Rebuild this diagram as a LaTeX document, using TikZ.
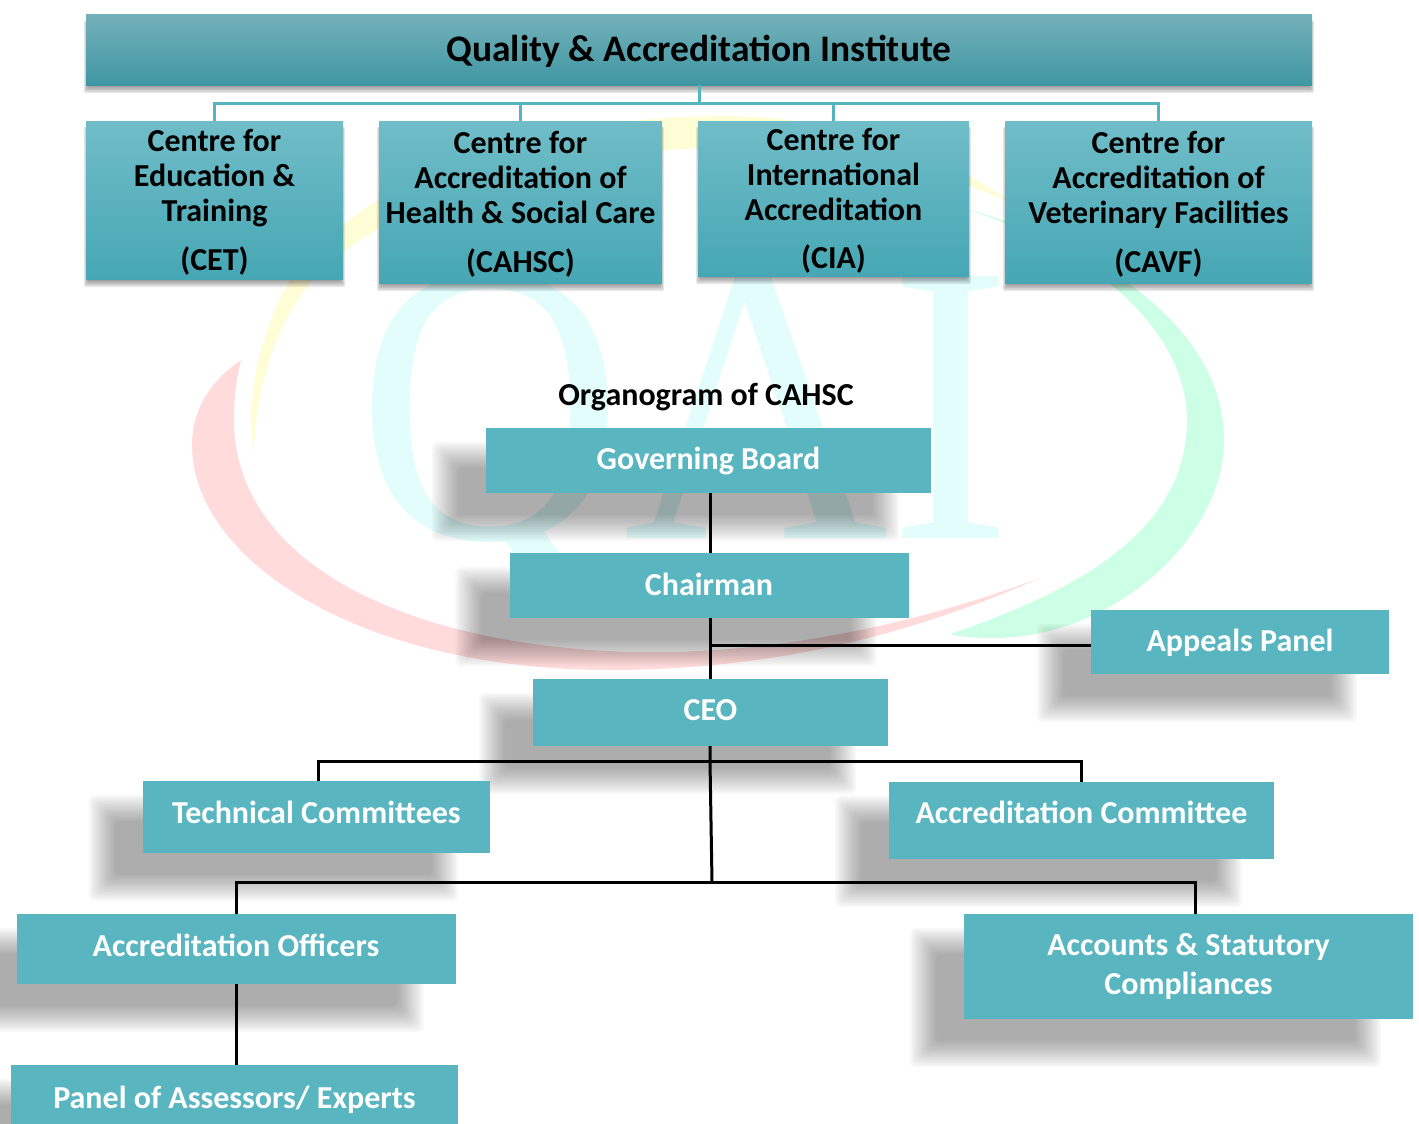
\documentclass[tikz,border=0pt]{standalone}
\usepackage{fontspec}
\setmainfont{Carlito}
\newfontfamily\wmfont{Liberation Serif}
\usetikzlibrary{calc}
\pgfdeclarelayer{wmark}
\pgfdeclarelayer{shade}
\pgfsetlayers{wmark,shade,main}
\definecolor{orgteal}{HTML}{59B6C1}
\definecolor{linkteal}{HTML}{55B4BE}
\definecolor{HeadA}{HTML}{70BDC8}
\definecolor{HeadB}{HTML}{55B9C9}
\definecolor{HeadC}{HTML}{46A7B4}
\tikzset{
  topbox/.style={rectangle,inner sep=0pt,align=center,top color=HeadA,middle color=HeadB,bottom color=HeadC,
    font=\fontsize{32}{35}\bfseries\selectfont},
  orgbox/.style={rectangle,inner sep=0pt,align=center,fill=orgteal,text=white,
    font=\fontsize{32}{39}\bfseries\selectfont},
  teallink/.style={draw=linkteal,line width=3pt},
  orglink/.style={draw=black,line width=3pt}
}
\begin{document}
\begin{tikzpicture}[x=1pt,y=-1pt]
            \useasboundingbox (0,0) rectangle (1419,1124);

            % header row
            \node[rectangle,inner sep=0pt,top color=HeadA!80!gray,bottom color=HeadC!90!black,minimum width=1226pt,minimum height=70pt,text depth=3pt,font=\fontsize{37.5}{40}\bfseries\selectfont] (qai) at (699.00,50.00) {Quality \& Accreditation Institute};
            \node[topbox,minimum width=257pt,minimum height=158pt] (cet) at (214.50,200.00) {\rule{0pt}{27pt}Centre for\\Education \&\\Training\\[14pt](CET)};
            \node[topbox,minimum width=283pt,minimum height=162pt] (cahsc) at (520.50,202.00) {\rule{0pt}{27pt}Centre for\\Accreditation of\\Health \& Social Care\\[14pt](CAHSC)};
            \node[topbox,minimum width=271pt,minimum height=155pt] (cia) at (833.50,198.50) {\rule{0pt}{26pt}Centre for\\International\\Accreditation\\[13pt](CIA)};
            \node[topbox,minimum width=307pt,minimum height=162pt] (cavf) at (1158.50,202.00) {\rule{0pt}{27pt}Centre for\\Accreditation of\\Veterinary Facilities\\[14pt](CAVF)};

            % organogram boxes
            \node[font=\fontsize{32}{36}\bfseries\selectfont,inner sep=0pt] (orgtitle) at (706.00,397.00) {Organogram of CAHSC};
            \node[orgbox,minimum width=445pt,minimum height=65pt] (gb) at (708.50,460.50) {Governing Board};
            \node[orgbox,minimum width=399pt,minimum height=65pt,text depth=2pt] (chair) at (709.00,585.50) {Chairman};
            \node[orgbox,minimum width=355pt,minimum height=67pt,text depth=6pt] (ceo) at (710.50,712.50) {CEO};
            \node[orgbox,minimum width=298pt,minimum height=64pt,text height=24pt] (appeals) at (1240.00,642.00) {Appeals Panel};
            \node[orgbox,minimum width=347pt,minimum height=72pt,text depth=10pt] (tech) at (316.50,817.00) {Technical Committees};
            \node[orgbox,minimum width=385pt,minimum height=77pt,text depth=16pt] (acccom) at (1081.50,820.50) {Accreditation Committee};
            \node[orgbox,minimum width=439pt,minimum height=70pt,text depth=8pt] (accoff) at (236.00,949.00) {Accreditation Officers};
            \node[orgbox,minimum width=449pt,minimum height=105pt] (accstat) at (1188.50,966.50) {Accounts \& Statutory\\Compliances};
            \node[orgbox,minimum width=447pt,minimum height=70pt] (panel) at (234.50,1100.00) {Panel of Assessors/ Experts};

            % junctions
            \coordinate (spine) at (710.00,761.00);
            \coordinate (busb) at (712.00,882.00);
            \coordinate (appealsjoin) at (710.00,645.00);
            \coordinate (headjoin) at (699.00,103.00);

            \draw[teallink] (qai.south) -- (headjoin);
            \draw[teallink] (cet.north) |- (headjoin);
            \draw[teallink] (cahsc.north) |- (headjoin);
            \draw[teallink] (cia.north) |- (headjoin);
            \draw[teallink] (cavf.north) |- (headjoin);

            \draw[orglink] (gb.south -| spine) -- (chair.north -| spine);
            \draw[orglink] (chair.south -| spine) -- (ceo.north -| spine);
            \draw[orglink] (appealsjoin) -- (appeals.west |- appealsjoin);
            \draw[orglink] (ceo.south -| spine) -- (spine) -- (busb);
            \draw[orglink] ([xshift=1.5pt]tech.north) |- (spine);
            \draw[orglink] (acccom.north) |- (spine);
            \draw[orglink] (accoff.north) |- (busb);
            \draw[orglink] ([xshift=6.5pt]accstat.north) |- (busb);
            \draw[orglink] (accoff.south) -- (panel.north -| accoff);

            % soft shadows
            \begin{pgfonlayer}{shade}
              \foreach \b in {gb,chair,ceo,appeals,tech,acccom,accoff,accstat,panel}
                \foreach \i in {0,...,13}
                  \fill[black,opacity=.027,rounded corners=6pt] ($(\b.north west)+(-54+2*\i,14+2*\i)$) rectangle ($(\b.south east)+(-32-2*\i,48-2*\i)$);
              \foreach \b in {qai,cet,cahsc,cia,cavf}
                \foreach \i in {0,...,4}
                  \fill[black,opacity=.09,rounded corners=2pt] ($(\b.north west)+(-2+\i,6)$) rectangle ($(\b.south east)+(2-\i,8-1.5*\i)$);
            \end{pgfonlayer}

            % watermark
            \begin{pgfonlayer}{wmark}
              \node[inner sep=0pt,text={rgb,255:red,227;green,253;blue,253},xscale=.92,font=\fontsize{400}{400}\wmfont\selectfont] (wmtext) at (685.00,438.00) {QAI};
              \fill[yellow!16] (254,455) .. controls (245,390) and (262,330) .. (290,280) .. controls (370,170) and (540,118) .. (720,116) .. controls (840,116) and (940,150) .. (1015,205) .. controls (930,165) and (830,146) .. (720,148) .. controls (560,150) and (400,190) .. (312,280) .. controls (280,320) and (255,380) .. (254,455) -- cycle;
              \fill[green!50!cyan!20] (958,207) .. controls (1060,232) and (1224,310) .. (1224,440) .. controls (1224,540) and (1110,640) .. (990,638) .. controls (975,638) and (960,637) .. (950,634) .. controls (1080,590) and (1187,530) .. (1187,420) .. controls (1187,330) and (1090,245) .. (958,207) -- cycle;
              \fill[red!14] (241,360) .. controls (205,385) and (192,415) .. (192,445) .. controls (192,560) and (360,670) .. (610,670) .. controls (760,670) and (900,640) .. (1040,578) .. controls (900,630) and (760,655) .. (630,652) .. controls (400,645) and (234,560) .. (234,420) .. controls (234,400) and (236,380) .. (241,360) -- cycle;
            \end{pgfonlayer}
          \end{tikzpicture}
\end{document}
